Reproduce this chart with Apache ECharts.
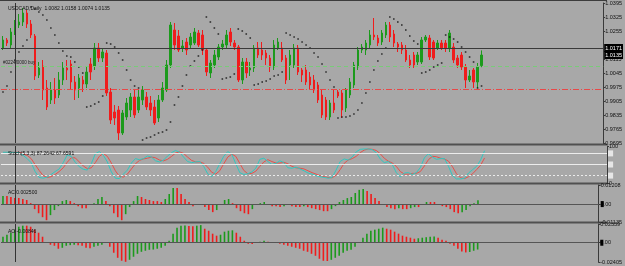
<!DOCTYPE html>
<html>
<head>
<meta charset="utf-8">
<title>USDCAD Daily</title>
<script src="https://cdn.jsdelivr.net/npm/echarts@6.0.0/dist/echarts.min.js"></script>
<style>
  html, body { margin: 0; padding: 0; background: #a8a8a8; }
  #chart { width: 625px; height: 266px; }
</style>
</head>
<body>
<div id="chart"></div>
<script>
// daily candles: [open, close, low, high]
var candles = [
  [1.0170,1.0210,1.0160,1.0230],[1.0210,1.0195,1.0180,1.0220],[1.0185,1.0250,1.0170,1.0270],[1.0245,1.0285,1.0235,1.0310],[1.0285,1.0300,1.0270,1.0340],[1.0300,1.0345,1.0280,1.0370],[1.0345,1.0290,1.0270,1.0360],[1.0290,1.0235,1.0220,1.0310],[1.0230,1.0030,1.0010,1.0240],[1.0035,1.0070,1.0020,1.0100],
  [1.0080,0.9960,0.9910,1.0110],[0.9970,0.9875,0.9860,1.0010],[0.9910,0.9960,0.9890,1.0000],[0.9960,0.9920,0.9890,1.0020],[0.9935,1.0010,0.9920,1.0050],[1.0010,1.0070,0.9985,1.0100],[1.0070,1.0060,1.0010,1.0110],[1.0090,1.0000,0.9960,1.0110],[1.0000,0.9960,0.9910,1.0030],[0.9970,1.0020,0.9920,1.0040],
  [1.0010,0.9990,0.9950,1.0030],[0.9990,1.0050,0.9970,1.0080],[1.0090,1.0050,1.0010,1.0120],[1.0080,1.0170,1.0060,1.0195],[1.0170,1.0120,1.0100,1.0195],[1.0120,1.0150,1.0100,1.0170],[1.0145,0.9945,0.9930,1.0160],[0.9950,0.9810,0.9790,0.9970],[0.9850,0.9820,0.9785,0.9885],[0.9860,0.9745,0.9710,0.9880],
  [0.9745,0.9845,0.9735,0.9860],[0.9825,0.9895,0.9810,0.9920],[0.9860,0.9925,0.9825,0.9945],[0.9925,0.9835,0.9820,0.9960],[0.9860,0.9925,0.9845,0.9960],[0.9910,0.9960,0.9885,0.9980],[0.9925,0.9875,0.9860,0.9950],[0.9895,0.9860,0.9830,0.9930],[0.9875,0.9795,0.9785,0.9910],[0.9820,0.9910,0.9800,0.9935],
  [0.9910,0.9970,0.9900,1.0000],[0.9960,1.0085,0.9950,1.0110],[1.0085,1.0285,1.0070,1.0300],[1.0260,1.0185,1.0160,1.0295],[1.0230,1.0160,1.0150,1.0260],[1.0170,1.0180,1.0150,1.0210],[1.0200,1.0160,1.0135,1.0220],[1.0185,1.0225,1.0170,1.0245],[1.0195,1.0250,1.0185,1.0270],[1.0245,1.0185,1.0175,1.0260],
  [1.0235,1.0160,1.0135,1.0260],[1.0160,1.0050,1.0030,1.0170],[1.0045,1.0095,1.0020,1.0110],[1.0085,1.0135,1.0070,1.0160],[1.0125,1.0175,1.0110,1.0190],[1.0175,1.0190,1.0160,1.0210],[1.0185,1.0235,1.0170,1.0260],[1.0250,1.0200,1.0180,1.0270],[1.0195,1.0175,1.0160,1.0210],[1.0175,1.0010,1.0000,1.0185],
  [1.0010,1.0100,0.9990,1.0120],[1.0100,1.0045,1.0020,1.0120],[1.0060,1.0070,1.0030,1.0100],[1.0070,1.0170,1.0050,1.0185],[1.0170,1.0135,1.0120,1.0200],[1.0160,1.0135,1.0110,1.0200],[1.0145,1.0120,1.0085,1.0160],[1.0120,1.0075,1.0050,1.0135],[1.0075,1.0185,1.0060,1.0210],[1.0170,1.0200,1.0160,1.0220],
  [1.0170,1.0110,1.0100,1.0200],[1.0120,1.0010,0.9990,1.0135],[1.0085,1.0135,1.0010,1.0160],[1.0085,1.0170,1.0070,1.0190],[1.0170,1.0050,1.0035,1.0185],[1.0060,1.0035,1.0000,1.0070],[1.0060,1.0000,0.9985,1.0085],[1.0025,0.9985,0.9960,1.0050],[1.0010,0.9960,0.9945,1.0035],[0.9985,0.9910,0.9895,1.0000],
  [0.9935,0.9835,0.9820,0.9960],[0.9910,0.9825,0.9810,0.9925],[0.9825,0.9895,0.9810,0.9910],[0.9895,0.9860,0.9845,0.9960],[0.9950,0.9930,0.9920,0.9960],[0.9945,0.9860,0.9820,0.9960],[0.9870,0.9960,0.9850,0.9970],[0.9935,1.0000,0.9920,1.0020],[0.9985,1.0085,0.9970,1.0100],[1.0075,1.0160,1.0060,1.0175],
  [1.0160,1.0175,1.0145,1.0190],[1.0160,1.0195,1.0135,1.0210],[1.0185,1.0235,1.0170,1.0260],[1.0235,1.0225,1.0210,1.0320],[1.0220,1.0195,1.0180,1.0235],[1.0200,1.0245,1.0185,1.0260],[1.0235,1.0285,1.0220,1.0300],[1.0285,1.0225,1.0200,1.0300],[1.0240,1.0195,1.0175,1.0260],[1.0190,1.0175,1.0150,1.0200],
  [1.0185,1.0160,1.0140,1.0200],[1.0160,1.0110,1.0100,1.0185],[1.0110,1.0085,1.0070,1.0135],[1.0135,1.0085,1.0070,1.0150],[1.0100,1.0135,1.0085,1.0150],[1.0100,1.0210,1.0090,1.0225],[1.0210,1.0225,1.0200,1.0235],[1.0220,1.0125,1.0110,1.0235],[1.0200,1.0120,1.0110,1.0210],[1.0170,1.0195,1.0160,1.0210],
  [1.0195,1.0170,1.0160,1.0210],[1.0195,1.0170,1.0150,1.0210],[1.0170,1.0245,1.0150,1.0260],[1.0175,1.0110,1.0095,1.0195],[1.0120,1.0085,1.0070,1.0135],[1.0135,1.0075,1.0060,1.0150],[1.0075,1.0010,0.9970,1.0090],[1.0010,1.0030,1.0000,1.0060],[1.0060,1.0000,0.9970,1.0070],[1.0000,1.0075,0.9970,1.0095],
  [1.0082,1.0135,1.0074,1.0158]
];

// parabolic SAR dots
var sar = [
  0.9950,0.9980,1.0050,1.0110,1.0150,1.0180,1.0210,1.0375,1.0365,1.0350,
  1.0335,1.0310,1.0270,1.0235,1.0195,1.0155,1.0130,1.0125,1.0100,1.0075,
  1.0045,0.9875,0.9880,0.9890,0.9900,0.9930,1.0195,1.0190,1.0175,1.0145,
  1.0110,1.0060,1.0010,0.9980,0.9970,0.9710,0.9720,0.9725,0.9735,0.9745,
  0.9750,0.9760,0.9800,0.9885,0.9925,0.9980,1.0035,1.0080,1.0105,1.0130,
  1.0160,1.0325,1.0300,1.0270,1.0240,1.0015,1.0020,1.0025,1.0040,1.0265,
  1.0255,1.0240,1.0220,0.9985,0.9990,1.0000,1.0005,1.0015,1.0030,1.0035,
  1.0050,1.0245,1.0235,1.0225,1.0215,1.0200,1.0185,1.0170,1.0145,1.0125,
  1.0090,1.0050,1.0010,0.9975,0.9820,0.9825,0.9825,0.9830,0.9840,0.9860,
  0.9895,0.9945,1.0000,1.0060,1.0105,1.0140,1.0170,1.0325,1.0315,1.0300,
  1.0285,1.0260,1.0230,1.0205,1.0190,1.0045,1.0050,1.0060,1.0075,1.0085,
  1.0095,1.0235,1.0225,1.0215,1.0200,1.0175,1.0150,1.0125,1.0100,0.9970,
  0.9980
];

// Stochastic(5,3,3): main and signal
var stochMain = [
  83,83,83,83,82,75,66,55,31,15,
  13,16,23,31,38,55,76,72,56,44,
  37,35,52,79,85,75,57,30,13,12,
  24,35,54,66,63,66,73,70,60,57,
  62,73,82,88,83,70,58,55,57,58,
  45,25,17,31,52,72,85,78,52,28,
  23,25,30,40,64,67,58,50,53,60,
  55,41,40,43,38,33,27,24,20,17,
  15,13,15,35,58,65,62,70,84,91,
  92,92,90,82,65,55,58,50,28,16,
  27,28,23,28,42,68,79,70,64,66,
  66,45,20,11,11,13,27,36,45,62,
  87.26
];
var stochSignal = [
  80,82,83,83,83,80,75,66,50,34,
  20,15,17,23,31,41,56,68,68,57,
  46,39,41,55,72,80,72,54,33,18,
  16,24,38,52,61,65,67,70,68,62,
  60,64,72,81,84,80,70,61,57,57,
  53,43,29,24,33,52,70,78,72,53,
  34,25,26,32,45,57,63,58,54,54,
  56,52,45,41,40,38,33,28,24,20,
  17,15,14,21,36,53,62,66,72,82,
  89,92,91,88,79,67,59,54,45,31,
  24,24,26,26,31,46,63,72,71,67,
  65,59,44,25,14,12,17,25,36,48,
  67.66
];

// Accelerator oscillator
var acValues = [
  0.0051,0.0051,0.0045,0.0038,0.0038,0.0032,0.0026,0.0006,-0.0032,-0.0058,
  -0.0083,-0.0102,-0.0070,-0.0038,-0.0013,0.0019,0.0026,0.0019,0.0006,-0.0013,
  -0.0026,-0.0026,-0.0006,0.0006,0.0032,0.0045,0.0019,-0.0013,-0.0058,-0.0083,
  -0.0102,-0.0064,-0.0019,0.0019,0.0051,0.0045,0.0032,0.0026,0.0019,0.0019,
  0.0013,0.0032,0.0064,0.0102,0.0102,0.0064,0.0032,0.0013,-0.0013,-0.0006,
  -0.0006,-0.0019,-0.0038,-0.0051,-0.0038,0.0000,0.0026,0.0032,0.0006,-0.0026,
  -0.0045,-0.0058,-0.0064,-0.0032,-0.0006,0.0006,0.0013,-0.0006,-0.0013,-0.0013,
  -0.0019,-0.0013,-0.0006,-0.0013,-0.0019,-0.0019,-0.0013,-0.0019,-0.0026,-0.0032,
  -0.0038,-0.0045,-0.0045,-0.0032,-0.0013,0.0013,0.0026,0.0038,0.0045,0.0070,
  0.0090,0.0096,0.0083,0.0064,0.0038,0.0019,-0.0006,-0.0019,-0.0026,-0.0032,
  -0.0026,-0.0032,-0.0032,-0.0026,-0.0019,-0.0019,-0.0006,0.0013,0.0013,0.0013,
  -0.0006,-0.0013,-0.0019,-0.0032,-0.0051,-0.0058,-0.0051,-0.0038,-0.0013,0.0006,
  0.0025
];

// Awesome oscillator
var aoValues = [
  0.0075,0.0100,0.0125,0.0163,0.0200,0.0213,0.0213,0.0200,0.0163,0.0125,
  0.0075,0.0004,-0.0025,-0.0038,-0.0075,-0.0063,-0.0038,-0.0030,-0.0025,-0.0030,
  -0.0038,-0.0063,-0.0069,-0.0050,-0.0038,-0.0025,0.0006,-0.0050,-0.0125,-0.0188,
  -0.0225,-0.0238,-0.0213,-0.0175,-0.0138,-0.0113,-0.0100,-0.0088,-0.0085,-0.0075,
  -0.0063,-0.0038,0.0025,0.0113,0.0188,0.0213,0.0215,0.0210,0.0206,0.0213,
  0.0220,0.0175,0.0150,0.0113,0.0088,0.0100,0.0138,0.0150,0.0155,0.0125,
  0.0075,0.0025,-0.0013,-0.0015,0.0002,0.0013,0.0025,0.0013,0.0005,0.0002,
  -0.0013,-0.0025,-0.0038,-0.0050,-0.0063,-0.0075,-0.0100,-0.0113,-0.0138,-0.0163,
  -0.0200,-0.0225,-0.0228,-0.0213,-0.0188,-0.0163,-0.0125,-0.0100,-0.0088,-0.0050,
  0.0004,0.0063,0.0113,0.0150,0.0163,0.0175,0.0188,0.0175,0.0163,0.0138,
  0.0113,0.0088,0.0075,0.0063,0.0050,0.0056,0.0063,0.0069,0.0075,0.0078,
  0.0063,0.0038,0.0025,-0.0013,-0.0038,-0.0075,-0.0108,-0.0121,-0.0115,-0.0100,
  -0.0085
];

var priceTicks = [1.0395,1.0325,1.0255,1.0115,1.0045,0.9975,0.9905,0.9835,0.9765,0.9695];
var stochTicks = [0, 100];
var stochLevels = [80, 50, 20];
var acTicks = [-0.01135, 0, 0.01208];
var aoTicks = [-0.02405, 0, 0.02339];
var crossPrice = 1.0170, bidPrice = 1.0135, orderPrice = 1.0080, stopPrice = 0.9965;
var crossBar = 3;
var slotCount = 151;

var GREEN = '#1c9a1c', RED = '#f01c1c';
var FONT = 'Liberation Sans';

var slots = [];
for (var i = 0; i < slotCount; i++) slots.push(String(i));

function histData(vals) {
  return vals.map(function (v, i) {
    var up = i === 0 ? true : v > vals[i - 1];
    return { value: v, itemStyle: { color: up ? GREEN : RED } };
  });
}

var crossLine = { xAxis: String(crossBar), lineStyle: { color: '#333', width: 1, type: 'solid' }, label: { show: false } };

function xAx(idx) {
  return { type: 'category', gridIndex: idx, data: slots, boundaryGap: true, show: false };
}
function yAx(idx, min, max, ticks, fmt) {
  return {
    type: 'value', gridIndex: idx, position: 'right', min: min, max: max,
    splitLine: { show: false },
    axisLine: { show: true, lineStyle: { color: '#3a3a3a', width: 1 } },
    axisTick: { show: true, length: 2, customValues: ticks, lineStyle: { color: '#3a3a3a' } },
    axisLabel: {
      show: true, customValues: ticks, fontSize: 5.5, fontFamily: FONT, color: '#111', margin: 2,
      formatter: fmt,
      rich: { k: { backgroundColor: '#000', color: '#000', fontSize: 5.5 } }
    }
  };
}
function smallText(text, top) {
  return { text: text, left: 3, top: top, textStyle: { fontSize: 5, fontWeight: 'normal', color: '#111', fontFamily: FONT } };
}
function zeroFmt(v) {
  if (Math.abs(v) < 1e-9) return '{k|0}.00';
  return v.toFixed(5);
}
function boxLabel(text) {
  return { show: true, position: 'end', distance: 1, formatter: text, backgroundColor: '#000', color: '#fff', fontSize: 5.5, fontFamily: FONT, padding: [1, 1] };
}
function marks(items) {
  return { silent: true, symbol: 'none', animation: false, precision: 6, data: items };
}

var chart = echarts.init(document.getElementById('chart'));
chart.setOption({
  backgroundColor: '#a8a8a8',
  animation: false,
  title: [
    smallText('USDCAD,Daily  1.0082 1.0158 1.0074 1.0135', 1),
    smallText('Stoch(5,3,3) 87.2642 67.6591', 146),
    smallText('AC 0.002500', 185),
    smallText('AO -0.00846', 224)
  ],
  grid: [
    { left: 1, right: 18, top: 3, height: 140 },
    { left: 1, right: 18, top: 146, height: 37 },
    { left: 1, right: 18, top: 185, height: 37 },
    { left: 1, right: 18, top: 224, height: 38 }
  ],
  xAxis: [xAx(0), xAx(1), xAx(2), xAx(3)],
  yAxis: [
    yAx(0, 0.9695, 1.0395, priceTicks, function (v) { return v.toFixed(4); }),
    yAx(1, 0, 100, stochTicks, function (v) { return String(v); }),
    yAx(2, -0.01135, 0.01208, acTicks, zeroFmt),
    yAx(3, -0.02405, 0.02339, aoTicks, zeroFmt)
  ],
  graphic: [
    { type: 'rect', silent: true, shape: { x: 0, y: 0, width: 607, height: 1 }, style: { fill: '#3c3c3c' } },
    { type: 'rect', silent: true, shape: { x: 0, y: 143.5, width: 607, height: 2 }, style: { fill: '#505050' } },
    { type: 'rect', silent: true, shape: { x: 0, y: 182.5, width: 607, height: 2 }, style: { fill: '#505050' } },
    { type: 'rect', silent: true, shape: { x: 0, y: 221.5, width: 607, height: 2 }, style: { fill: '#505050' } }
  ],
  series: [
    {
      type: 'candlestick', xAxisIndex: 0, yAxisIndex: 0, data: candles, barWidth: 2,
      itemStyle: { color: GREEN, color0: RED, borderColor: GREEN, borderColor0: RED, borderWidth: 1 }
    },
    {
      type: 'scatter', xAxisIndex: 0, yAxisIndex: 0, data: sar, symbol: 'rect', symbolSize: 1.6,
      itemStyle: { color: '#111' },
      markLine: marks([
        { yAxis: crossPrice, lineStyle: { color: '#3a3a3a', width: 1, type: 'solid' }, label: boxLabel('1.0171') },
        { yAxis: bidPrice, lineStyle: { color: '#a8a8a8', width: 0 }, label: boxLabel('1.0135') },
        { yAxis: orderPrice, lineStyle: { color: '#78cc78', width: 1, type: [4, 3] },
          label: { show: true, position: 'insideStartTop', distance: [2, 1], formatter: '#0224f0000 buy', color: '#222', fontSize: 4.5, fontFamily: FONT } },
        { yAxis: stopPrice, lineStyle: { color: '#e84848', width: 1, type: [6, 2, 1, 2] }, label: { show: false } },
        crossLine
      ])
    },
    {
      type: 'line', xAxisIndex: 1, yAxisIndex: 1, data: stochSignal, showSymbol: false,
      lineStyle: { color: '#e8504a', width: 1 },
      markLine: marks(stochLevels.map(function (lv, k) {
        return { yAxis: lv, lineStyle: { color: '#ececec', width: 1, type: k === 2 ? [2, 2] : 'solid' },
          label: { show: true, position: 'end', distance: 1, formatter: ' ', backgroundColor: '#e6e6e6', fontSize: 4, padding: [1, 2] } };
      }).concat([crossLine]))
    },
    {
      type: 'line', xAxisIndex: 1, yAxisIndex: 1, data: stochMain, showSymbol: false,
      lineStyle: { color: '#30c8c0', width: 1 }
    },
    {
      type: 'bar', xAxisIndex: 2, yAxisIndex: 2, data: histData(acValues), barWidth: 1.6,
      markLine: marks([{ yAxis: 0, lineStyle: { color: '#555', width: 1, type: 'solid' }, label: { show: false } }, crossLine])
    },
    {
      type: 'bar', xAxisIndex: 3, yAxisIndex: 3, data: histData(aoValues), barWidth: 1.6,
      markLine: marks([{ yAxis: 0, lineStyle: { color: '#555', width: 1, type: 'solid' }, label: { show: false } }, crossLine])
    }
  ]
});
</script>
</body>
</html>
